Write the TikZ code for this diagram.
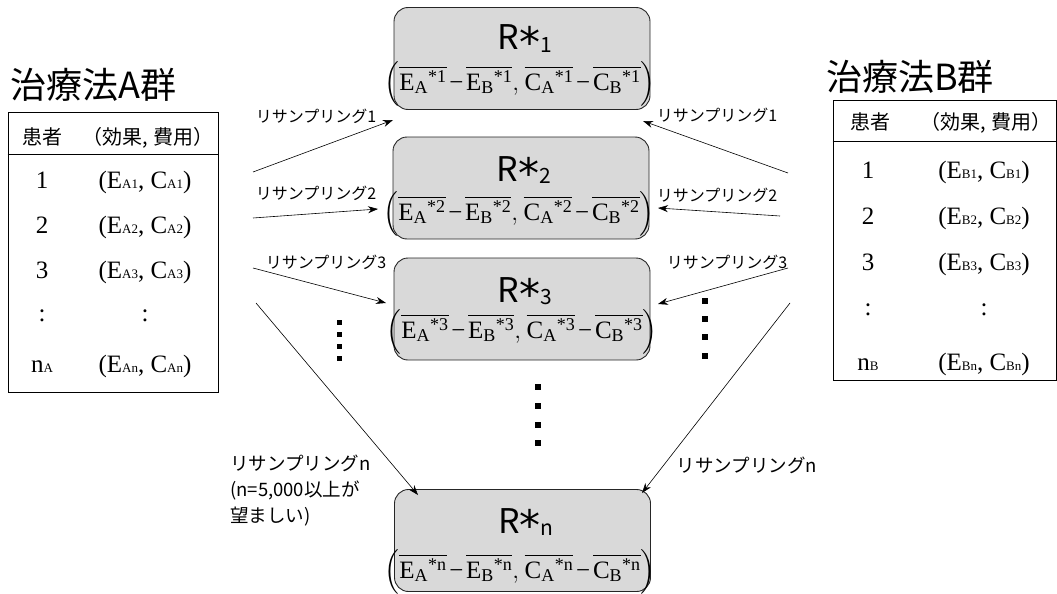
\documentclass[tikz,border=0pt]{standalone}
\usepackage{amsmath}
\usepackage{fontspec}
\setmainfont{Liberation Serif}
\newfontfamily\jp{Noto Sans CJK JP}
\newfontfamily\dv{DejaVu Sans}
\usetikzlibrary{arrows.meta}
\definecolor{boxgray}{HTML}{D9D9D9}
\DeclareMathSizes{25}{25}{18}{13}
\newcommand{\fs}[1]{\fontsize{#1}{#1}\selectfont}
\newcommand{\bterm}[3]{\overline{\textrm{#1}_{\textrm{#2}}{}^{\textrm{*#3}}}}
\newcommand{\mn}{\mkern2mu\textrm{−}\mkern2mu}
\newcommand{\rform}[1]{$\left(\vrule height 29pt depth 17pt width 0pt\bterm{E}{A}{#1}\mn\bterm{E}{B}{#1},\mkern1mu\bterm{C}{A}{#1}\mn\bterm{C}{B}{#1}\right)$}
\newcommand{\pair}[2]{(E{\fs{13}#1#2}, C{\fs{13}#1#2})}
\newcommand{\rlab}[1]{\jp\fs{34}R\raisebox{-7pt}{\dv\fs{42}*}\raisebox{-2pt}{\fs{21}#1}}
\begin{document}
\begin{tikzpicture}[x=1pt,y=-1pt,
  rbox/.style={draw=black!85,fill=boxgray,line width=0.9pt,rounded corners=14pt,minimum width=256pt,minimum height=102pt,inner sep=0pt},
  arr/.style={-{Stealth[length=10pt,width=7pt]},line width=0.6pt},
  lab/.style={font=\jp\fs{16},inner sep=0pt},
  labn/.style={font=\jp\fontsize{18.5}{26}\selectfont,inner sep=0pt},
  cell/.style={font=\fs{25},anchor=base,inner sep=0pt},
  hdr/.style={font=\jp\fs{20},anchor=base,inner sep=0pt},
  ttl/.style={font=\jp\fs{36},anchor=base west,inner sep=0pt},
  rt/.style={anchor=base,inner sep=0pt},
  fm/.style={anchor=base,inner sep=0pt,font=\fs{25}},
  tab/.style={draw=black,line width=1pt,inner sep=0pt},
  dotsq/.style={fill=black,rectangle,inner sep=0pt,minimum size=#1}]
\useasboundingbox (0,0) rectangle (1057,594);

% titles
\node[ttl] (tA) at (10,99) {治療法A群};
\node[ttl] (tB) at (826,90) {治療法B群};

% table A
\node[tab,minimum width=210pt,minimum height=280pt] (tabA) at (113,252) {};
\draw[line width=1pt] (tabA.west |- 0,154) -- (tabA.east |- 0,154);
\node[hdr] (hA1) at (42,144) {患者};
\node[hdr] (hA2) at (148,144) {（効果, 費用）};
\node[cell] (a11) at (42,188) {1};
\node[cell] (a12) at (145,188) {\pair{A}{1}};
\node[cell] (a21) at (42,233) {2};
\node[cell] (a22) at (145,233) {\pair{A}{2}};
\node[cell] (a31) at (42,278) {3};
\node[cell] (a32) at (145,278) {\pair{A}{3}};
\node[cell] (a41) at (42,321) {:};
\node[cell] (a42) at (145,321) {:};
\node[cell] (a51) at (42,372) {n{\fs{13}A}};
\node[cell] (a52) at (145,372) {\pair{A}{n}};

% table B
\node[tab,minimum width=223pt,minimum height=280pt] (tabB) at (944.5,240) {};
\draw[line width=1pt] (tabB.west |- 0,141) -- (tabB.east |- 0,141);
\node[hdr] (hB1) at (870,129) {患者};
\node[hdr] (hB2) at (986,129) {（効果, 費用）};
\node[cell] (b11) at (868,178) {1};
\node[cell] (b12) at (984,178) {\pair{B}{1}};
\node[cell] (b21) at (868,224) {2};
\node[cell] (b22) at (984,224) {\pair{B}{2}};
\node[cell] (b31) at (868,270) {3};
\node[cell] (b32) at (984,270) {\pair{B}{3}};
\node[cell] (b41) at (868,315) {:};
\node[cell] (b42) at (984,315) {:};
\node[cell] (b51) at (868,370) {n{\fs{13}B}};
\node[cell] (b52) at (984,370) {\pair{B}{n}};

% result boxes
\node[rbox] (R1) at (522,58.5) {};
\node[rt] (R1t) at (525,50) {\rlab{1}};
\node[fm] (R1f) at (520,90) {\rform{1}};
\node[rbox] (R2) at (521,188) {};
\node[rt] (R2t) at (524,181) {\rlab{2}};
\node[fm] (R2f) at (519,220) {\rform{2}};
\node[rbox] (R3) at (522,309) {};
\node[rt] (R3t) at (525,302) {\rlab{3}};
\node[fm] (R3f) at (522,338) {\rform{3}};
\node[rbox] (Rn) at (522.5,540.5) {};
\node[rt] (Rnt) at (526,533) {\rlab{n}};
\node[fm] (Rnf) at (520,578) {\rform{n}};

% arrow endpoints
\coordinate (a1s) at (253,172); \coordinate (a1e) at (393,120);
\coordinate (a2s) at (253,218); \coordinate (a2e) at (378,209);
\coordinate (a3s) at (253,268); \coordinate (a3e) at (386,303);
\coordinate (ans) at (256,303); \coordinate (ane) at (418,495);
\coordinate (b1s) at (788,173); \coordinate (b1e) at (643,121);
\coordinate (b2s) at (780,216); \coordinate (b2e) at (658,208);
\coordinate (b3s) at (788,268); \coordinate (b3e) at (658,304);
\coordinate (bns) at (790,303); \coordinate (bne) at (642,493);
\draw[arr] (a1s) -- (a1e);
\draw[arr] (a2s) -- (a2e);
\draw[arr] (a3s) -- (a3e);
\draw[arr] (ans) -- (ane);
\draw[arr] (b1s) -- (b1e);
\draw[arr] (b2s) -- (b2e);
\draw[arr] (b3s) -- (b3e);
\draw[arr] (bns) -- (bne);

% labels
\node[lab] (la1) at (316,116) {リサンプリング1};
\node[lab] (la2) at (316,193) {リサンプリング2};
\node[lab] (la3) at (326,262) {リサンプリング3};
\node[labn,anchor=west,align=left] (lan) at (230,491) {リサンプリングn\\(n=5,000以上が\\望ましい)};
\node[lab] (lb1) at (717,115) {リサンプリング1};
\node[lab] (lb2) at (717,195) {リサンプリング2};
\node[lab] (lb3) at (727,262) {リサンプリング3};
\node[labn] (lbn) at (747,465) {リサンプリングn};

% dots
\foreach \y [count=\i] in {322,334,346,358} \node[dotsq=5pt] (dl\i) at (339,\y) {};
\foreach \y [count=\i] in {301,319,337,356} \node[dotsq=6pt] (dr\i) at (705,\y) {};
\foreach \y [count=\i] in {387,406,425,443} \node[dotsq=6pt] (dc\i) at (538,\y) {};
\end{tikzpicture}
\end{document}
